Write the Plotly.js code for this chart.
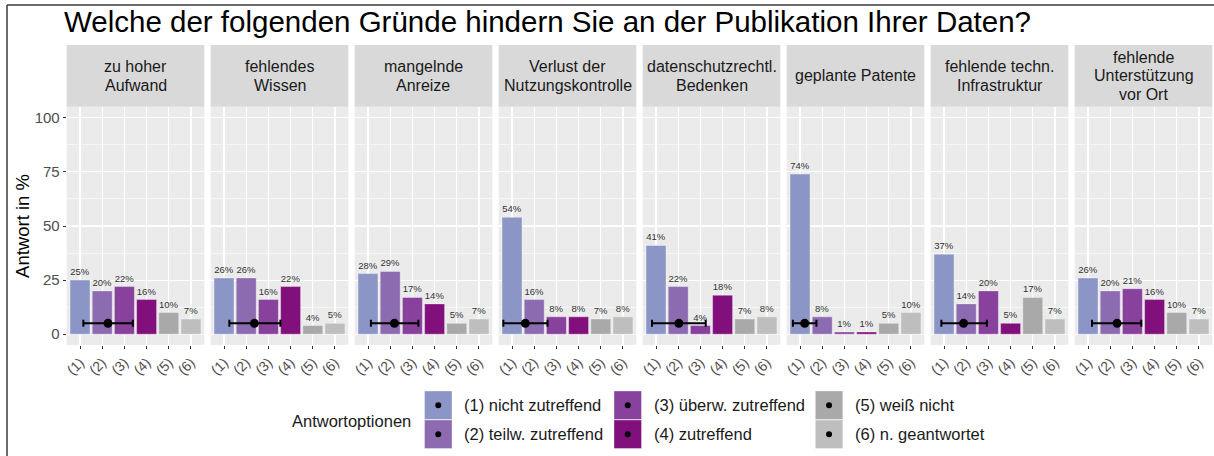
<!DOCTYPE html>
<html>
<head>
<meta charset="utf-8">
<script src="https://cdn.plot.ly/plotly-3.0.1.min.js"></script>
<style>html,body{margin:0;padding:0;background:#fff;}#chart{width:1214px;height:456px;}</style>
</head>
<body>
<div id="chart"></div>
<script>
// ---- data ----
const facetLabels = [
  ["zu hoher", "Aufwand"],
  ["fehlendes", "Wissen"],
  ["mangelnde", "Anreize"],
  ["Verlust der", "Nutzungskontrolle"],
  ["datenschutzrechtl.", "Bedenken"],
  ["geplante Patente"],
  ["fehlende techn.", "Infrastruktur"],
  ["fehlende", "Unterstützung", "vor Ort"]
];
const categories = [1, 2, 3, 4, 5, 6];
const tickLabels = ["(1)", "(2)", "(3)", "(4)", "(5)", "(6)"];
const optionNames = ["(1) nicht zutreffend", "(2) teilw. zutreffend", "(3) überw. zutreffend",
                     "(4) zutreffend", "(5) weiß nicht", "(6) n. geantwortet"];
const zuHoherAufwand      = [25, 20, 22, 16, 10, 7];
const fehlendesWissen     = [26, 26, 16, 22, 4, 5];
const mangelndeAnreize    = [28, 29, 17, 14, 5, 7];
const verlustKontrolle    = [54, 16, 8, 8, 7, 8];
const datenschutz         = [41, 22, 4, 18, 7, 8];
const geplantePatente     = [74, 8, 1, 1, 5, 10];
const techInfrastruktur   = [37, 14, 20, 5, 17, 7];
const fehlendeUnterstuetz = [26, 20, 21, 16, 10, 7];
const facetValues = [zuHoherAufwand, fehlendesWissen, mangelndeAnreize, verlustKontrolle,
                     datenschutz, geplantePatente, techInfrastruktur, fehlendeUnterstuetz];
// mean answer (category scale) with lower / upper interval ends
const meanAnswer = [2.26, 2.37, 2.19, 1.60, 2.03, 1.21, 1.88, 2.31];
const meanLower  = [1.15, 1.24, 1.13, 0.61, 0.82, 0.68, 0.88, 1.18];
const meanUpper  = [3.38, 3.54, 3.27, 2.60, 3.24, 1.74, 2.93, 3.40];
const meanLevel  = [5, 5, 5, 5, 5, 5, 5, 5];

// ---- styling ----
const barColors = ["#8c96c6", "#8c6bb1", "#88419d", "#810f7c", "#a9a9a9", "#bebebe"];
const FONT = "Liberation Sans, Arial, Helvetica, sans-serif";
const W = 1214, H = 456;
const px = x => x / W;
const py = y => 1 - y / H;
const panelLeft0 = 66.7, panelW = 137.6, panelStep = 144.0;
const panelTop = 107, panelBottom = 345, stripTop = 45;

const traces = [];
const layout = {
  width: W, height: H,
  margin: {l: 0, r: 0, t: 0, b: 0},
  paper_bgcolor: "#ffffff",
  plot_bgcolor: "#ebebeb",
  font: {family: FONT, color: "#1a1a1a"},
  showlegend: false,
  bargap: 0.1,
  title: {
    text: "Welche der folgenden Gründe hindern Sie an der Publikation Ihrer Daten?",
    x: px(64), xanchor: "left", y: py(22), yanchor: "middle",
    font: {family: FONT, size: 29.5, color: "#000000"}
  },
  shapes: [],
  annotations: []
};

facetValues.forEach((vals, i) => {
  const sfx = i === 0 ? "" : String(i + 1);
  const left = panelLeft0 + i * panelStep;
  layout["xaxis" + sfx] = {
    domain: [px(left), px(left + panelW)],
    anchor: "y" + sfx,
    range: [0.4, 6.6],
    tickmode: "array", tickvals: categories, ticktext: tickLabels,
    tickangle: -45,
    ticks: "outside", ticklen: 3, tickwidth: 1, tickcolor: "#333333",
    tickfont: {family: FONT, size: 14, color: "#4d4d4d"},
    showgrid: true, gridcolor: "#ffffff", gridwidth: 1.1,
    zeroline: false, showline: false, fixedrange: true
  };
  layout["yaxis" + sfx] = {
    domain: [py(panelBottom), py(panelTop)],
    anchor: "x" + sfx,
    range: [-5, 105],
    tickmode: "array", tickvals: [0, 25, 50, 75, 100],
    showticklabels: i === 0,
    ticks: i === 0 ? "outside" : "", ticklen: 3, tickwidth: 1, tickcolor: "#333333",
    tickfont: {family: FONT, size: 15, color: "#4d4d4d"},
    showgrid: true, gridcolor: "#ffffff", gridwidth: 1.1,
    minor: {tickmode: "linear", tick0: 12.5, dtick: 25, showgrid: true, gridcolor: "#ffffff", gridwidth: 0.55, ticks: ""},
    zeroline: false, showline: false, fixedrange: true,
    title: i === 0 ? {text: "Antwort in %", font: {family: FONT, size: 18.5, color: "#000000"}, standoff: 0} : {text: ""}
  };
  traces.push({
    type: "bar", x: categories, y: vals,
    xaxis: "x" + sfx, yaxis: "y" + sfx,
    width: 0.9,
    marker: {color: barColors, line: {color: "rgba(255,255,255,0.35)", width: 1}},
    text: vals.map(v => v + "%"),
    textposition: "outside", constraintext: "none", cliponaxis: false,
    textfont: {family: FONT, size: 9.5, color: "#333333"},
    hoverinfo: "skip"
  });
  traces.push({
    type: "scatter", mode: "markers",
    x: [meanAnswer[i]], y: [meanLevel[i]],
    xaxis: "x" + sfx, yaxis: "y" + sfx,
    marker: {color: "#000000", size: 9},
    error_x: {type: "data", symmetric: false,
              array: [meanUpper[i] - meanAnswer[i]],
              arrayminus: [meanAnswer[i] - meanLower[i]],
              color: "#000000", thickness: 2, width: 3.5},
    hoverinfo: "skip", cliponaxis: false
  });
  // strip
  layout.shapes.push({type: "rect", xref: "paper", yref: "paper",
    x0: px(left), x1: px(left + panelW), y0: py(panelTop - 0.3), y1: py(stripTop),
    fillcolor: "#d9d9d9", line: {width: 0}, layer: "below"});
  const lines = facetLabels[i];
  const stripMid = (stripTop + panelTop) / 2;
  const lh = 18.5;
  lines.forEach((t, k) => {
    const yc = stripMid + (k - (lines.length - 1) / 2) * lh;
    layout.annotations.push({xref: "paper", yref: "paper", x: px(left + panelW / 2), y: py(yc),
      xanchor: "center", yanchor: "middle", showarrow: false, text: t,
      font: {family: FONT, size: 16, color: "#1a1a1a"}});
  });
});

// ---- legend (drawn in paper space) ----
layout.annotations.push({xref: "paper", yref: "paper", x: px(413), y: py(421),
  xanchor: "right", yanchor: "middle", showarrow: false, text: "Antwortoptionen",
  font: {family: FONT, size: 16.5, color: "#1a1a1a"}});
const keyCols = [424.5, 614, 815.3];
const keyRows = [391, 420];
const keyW = 27.5, keyH = 28.5;
optionNames.forEach((name, j) => {
  const c = Math.floor(j / 2), r = j % 2;
  const x0 = keyCols[c], y0 = keyRows[r];
  layout.shapes.push({type: "rect", xref: "paper", yref: "paper",
    x0: px(x0), x1: px(x0 + keyW), y0: py(y0 + keyH), y1: py(y0),
    fillcolor: barColors[j], line: {color: "rgba(255,255,255,0.35)", width: 1}});
  const cx = x0 + keyW / 2, cy = y0 + keyH / 2;
  layout.shapes.push({type: "circle", xref: "paper", yref: "paper",
    x0: px(cx - 3), x1: px(cx + 3), y0: py(cy + 3), y1: py(cy - 3),
    fillcolor: "#000000", line: {width: 0}});
  layout.annotations.push({xref: "paper", yref: "paper", x: px(x0 + keyW + 10), y: py(cy),
    xanchor: "left", yanchor: "middle", showarrow: false, text: name,
    font: {family: FONT, size: 16.5, color: "#1a1a1a"}});
});

// outer frame (left and top edges visible)
layout.shapes.push({type: "line", xref: "paper", yref: "paper", x0: px(7), x1: px(7), y0: 0, y1: py(5),
  line: {color: "#3a3a3a", width: 1.5}});
layout.shapes.push({type: "line", xref: "paper", yref: "paper", x0: px(7), x1: 1, y0: py(5), y1: py(5),
  line: {color: "#3a3a3a", width: 1.5}});

Plotly.newPlot("chart", traces, layout, {displayModeBar: false, staticPlot: true});
</script>
</body>
</html>
